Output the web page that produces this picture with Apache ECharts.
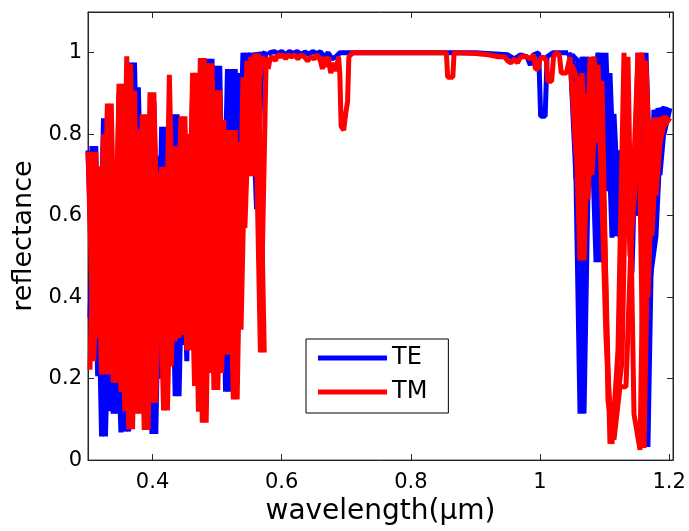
<!DOCTYPE html>
<html>
<head>
<meta charset="utf-8">
<script src="https://cdn.jsdelivr.net/npm/echarts@6/dist/echarts.min.js"></script>
<style>html,body{margin:0;padding:0;background:#fff}#c{width:689px;height:531px}</style>
</head>
<body>
<div id="c"></div>
<script>
// ---- data ----
var xTicks = [0.4, 0.6, 0.8, 1.0, 1.2];
var yTicks = [0, 0.2, 0.4, 0.6, 0.8, 1.0];

// TE: dense noisy band (short wavelengths)
var teDenseWl = [
0.300,0.303,0.306,0.309,0.312,0.315,0.318,0.321,0.324,0.327,0.330,0.333,0.336,0.339,0.342,0.345,0.348,0.351,0.354,0.357,
0.360,0.363,0.366,0.369,0.372,0.375,0.378,0.381,0.384,0.387,0.390,0.393,0.396,0.399,0.402,0.405,0.408,0.411,0.414,0.417,
0.420,0.423,0.426,0.429,0.432,0.435,0.438,0.441,0.444,0.447,0.450,0.453,0.456,0.459,0.462,0.465,0.468,0.471,0.474,0.477,
0.480,0.483,0.486,0.489,0.492,0.495,0.498,0.501,0.504,0.507,0.510,0.513,0.516,0.519,0.522,0.525,0.528,0.531,0.534,0.537,
0.540,0.543,0.546,0.549,0.552,0.555,0.558,0.561,0.564,0.567,0.570,0.573,0.576,0.579
];
var teDenseR = [
0.76,0.35,0.771,0.33,0.771,0.206,0.60,0.058,0.839,0.058,0.70,0.12,0.60,0.114,0.50,0.114,0.90,0.068,0.90,0.07,
0.95,0.07,0.976,0.20,0.976,0.30,0.915,0.34,0.75,0.30,0.80,0.25,0.85,0.064,0.88,0.064,0.747,0.20,0.818,0.30,
0.818,0.25,0.85,0.35,0.849,0.157,0.849,0.157,0.80,0.283,0.80,0.243,0.80,0.35,0.90,0.35,0.93,0.30,0.95,0.25,
0.95,0.30,0.985,0.40,0.985,0.35,0.968,0.30,0.968,0.316,0.835,0.168,0.96,0.168,0.96,0.55,0.96,0.50,0.95,0.60,
1.0,0.75,1.0,0.85,1.0,0.80,1.0,0.616,1.0,0.95,1.0,0.98,1.0,0.995
];
// TE: flat high-reflectance band
var teFlatWl = [
0.582,0.588,0.594,0.600,0.606,0.612,0.618,0.624,0.630,0.636,0.642,0.648,0.654,0.660,0.666,0.672,0.678,0.684,0.690,0.700,
0.760,0.850,0.900,0.950,0.960,0.970,0.980,0.985,0.990,0.998,1.001,1.008,1.011,1.020,1.030,1.040
];
var teFlatR = [
1.0,1.003,0.998,1.003,0.995,1.003,0.998,1.003,0.995,1.002,0.996,1.003,0.998,1.002,0.99,1.0,0.985,0.99,1.0,1.0,
1.0,1.0,1.0,0.995,0.985,0.995,0.99,0.97,0.995,1.0,0.844,0.844,0.99,1.0,1.0,1.0
];
// TE: dense band edge (long wavelengths)
var teRightWl = [
1.0434,1.0465,1.0496,1.0527,1.0558,1.0589,1.0620,1.0651,1.0682,1.0713,1.0744,1.0775,1.0806,1.0837,1.0868,1.0898,1.0929,1.0960,1.0991,1.1022,
1.1053,1.1084,1.1115,1.1146,1.1177,1.1208,1.1239,1.1270,1.1301,1.1332,1.1363,1.1394,1.1425,1.1456,1.1487,1.1518,1.1549,1.1580,1.1611,1.1642,
1.1672,1.1703,1.1734,1.1765,1.1796,1.1827,1.1858,1.1889,1.1920,1.1951,1.1982,1.2013
];
var teRightR = [
1.0,1.0,0.995,0.97,0.69,0.98,0.114,0.99,0.114,0.99,0.80,0.95,0.85,0.99,0.486,1.0,0.486,1.0,0.70,1.0,
0.66,0.95,0.546,0.85,0.55,0.76,0.546,0.76,0.60,0.76,0.55,0.76,0.46,0.70,0.60,1.0,0.60,1.0,0.45,1.0,
0.032,0.44,0.54,0.86,0.55,0.864,0.70,0.864,0.80,0.864,0.86,0.864
];

// TM
var tmDenseWl = teDenseWl.slice();
var tmDenseR = [
0.757,0.222,0.757,0.243,0.757,0.30,0.721,0.21,0.80,0.21,0.875,0.21,0.875,0.19,0.737,0.19,0.924,0.168,0.924,0.12,
0.991,0.076,0.972,0.076,0.907,0.114,0.81,0.114,0.849,0.074,0.849,0.074,0.903,0.141,0.903,0.141,0.706,0.287,0.72,0.122,
0.72,0.122,0.946,0.23,0.77,0.292,0.77,0.30,0.844,0.307,0.844,0.27,0.80,0.27,0.951,0.182,0.951,0.119,0.987,0.092,
0.987,0.092,0.974,0.214,0.974,0.172,0.908,0.172,0.908,0.214,0.835,0.259,0.81,0.259,0.81,0.149,0.81,0.149,0.78,0.32,
0.94,0.57,0.98,0.697,0.99,0.697,0.998,0.87,0.998,0.264,0.99,0.264,0.99,0.96
];
var tmFlatWl = [
0.582,0.586,0.590,0.594,0.598,0.602,0.606,0.610,0.615,0.620,0.625,0.630,0.635,0.640,0.645,0.650,0.655,0.660,0.663,0.666,
0.669,0.672,0.676,0.680,0.684,0.688,0.690,0.692,0.696,0.699,0.702,0.704,0.710,0.760,0.810,0.855,0.857,0.861,0.865,0.867,
0.900,0.920,0.935,0.945,0.950,0.955,0.960,0.965,0.970,0.980,0.985,0.990,0.993,0.997,1.000,1.005,1.010,1.012,1.018,1.021,
1.025,1.030,1.033,1.037,1.041
];
var tmFlatR = [
0.985,0.99,0.98,0.995,0.99,0.995,0.985,0.995,0.99,0.995,0.985,0.995,0.99,0.98,0.99,0.985,0.995,0.98,0.96,0.99,
0.965,0.99,0.95,0.975,0.955,0.99,0.95,0.82,0.81,0.85,0.88,0.99,1.0,1.0,1.0,1.0,0.94,0.94,0.94,1.0,
0.998,0.995,0.99,0.99,0.98,0.975,0.985,0.975,0.99,0.99,0.985,0.995,0.96,0.96,0.985,0.99,0.98,0.93,0.93,0.99,
1.0,0.995,0.95,0.95,0.95
];
var tmRightWl = [
1.0465,1.0496,1.0527,1.0558,1.0589,1.0620,1.0651,1.0682,1.0713,1.0744,1.0775,1.0806,1.0837,1.0868,1.0898,1.0929,1.0960,1.0991,1.1022,
1.1053,1.1084,1.1115,1.1146,1.1177,1.1208,1.1239,1.1270,1.1301,1.1332,1.1363,1.1394,1.1425,1.1456,1.1487,1.1518,1.1549,1.1580,1.1611,1.1642,
1.1672,1.1703,1.1734,1.1765,1.1796,1.1827,1.1858,1.1889,1.1920,1.1951,1.1982,1.2013
];
var tmRightR = [
0.99,0.97,0.93,0.75,0.93,0.49,0.95,0.49,0.90,0.64,0.99,0.70,0.99,0.78,0.97,0.80,0.93,0.62,0.30,
0.146,0.04,0.04,0.05,0.12,0.27,0.18,0.24,1.0,0.18,0.99,0.50,0.60,0.113,0.70,1.0,0.025,1.0,0.03,0.98,
0.40,0.83,0.55,0.84,0.65,0.84,0.78,0.84,0.82,0.845,0.84,0.84
];

var seriesNames = ['TE', 'TM'];
var seriesColors = ['#0000ff', '#ff0000'];

// ---- build series ----
function pairs(xs, ys) { return xs.map(function (x, i) { return [x, ys[i]]; }); }
// Dense, rapidly oscillating stretches are stroked as interleaved passes so that
// thick overlapping strokes of one path never cancel each other out.
function interleaved(xs, ys, k, j) {
  var out = [];
  for (var i = j; i < xs.length; i += k) out.push([xs[i], ys[i]]);
  return out;
}
var FONT = 'DejaVu Sans';
var AX = '#262626';

function lineSeries(name, color, data, z) {
  return {
    name: name, type: 'line', data: data, showSymbol: false, symbol: 'none',
    color: color, lineStyle: {width: 5, color: color, join: 'bevel'}, z: z,
    emphasis: {disabled: true}
  };
}
function buildSeries(name, color, dWl, dR, fWl, fR, rWl, rR, z) {
  var out = [];
  var mid = pairs(fWl, fR);
  mid.unshift([dWl[dWl.length - 1], dR[dR.length - 1]]);
  mid.push([rWl[0], rR[0]]);
  out.push(lineSeries(name, color, mid, z));
  for (var j = 0; j < 3; j++) {
    out.push(lineSeries(name, color, interleaved(dWl, dR, 3, j), z));
    out.push(lineSeries(name, color, interleaved(rWl, rR, 3, j), z));
  }
  return out;
}

var allSeries = []
  .concat(buildSeries(seriesNames[0], seriesColors[0], teDenseWl, teDenseR, teFlatWl, teFlatR, teRightWl, teRightR, 2))
  .concat(buildSeries(seriesNames[1], seriesColors[1], tmDenseWl, tmDenseR, tmFlatWl, tmFlatR, tmRightWl, tmRightR, 3));

var chart = echarts.init(document.getElementById('c'), null, {renderer: 'canvas'});
function fmt(v) { return String(Math.round(v * 10) / 10); }

chart.setOption({
  animation: false,
  backgroundColor: '#fff',
  grid: {left: 88, right: 16, top: 12, bottom: 68, show: true, borderColor: AX, borderWidth: 1, backgroundColor: 'transparent'},
  legend: {
    data: seriesNames, orient: 'vertical', left: 306, top: 339,
    icon: 'rect', itemWidth: 69, itemHeight: 5, itemGap: 10,
    padding: [7, 21, 9, 12],
    backgroundColor: '#fff', borderColor: '#000', borderWidth: 1, borderRadius: 0,
    textStyle: {fontFamily: FONT, fontSize: 24, color: '#000', lineHeight: 24}
  },
  xAxis: [{
    type: 'value', min: 0.3, max: 1.206,
    name: 'wavelength(\u03bcm)', nameLocation: 'middle', nameGap: 37,
    nameTextStyle: {fontFamily: FONT, fontSize: 28, color: '#000'},
    axisLine: {show: true, onZero: false, lineStyle: {color: AX, width: 1}},
    axisTick: {show: true, inside: true, length: 6, customValues: xTicks, lineStyle: {color: AX}},
    axisLabel: {show: true, margin: 12, customValues: xTicks, formatter: fmt, fontFamily: FONT, fontSize: 21, color: '#000'},
    splitLine: {show: false}
  }, {
    type: 'value', min: 0.3, max: 1.206, position: 'top',
    axisLine: {show: true, onZero: false, lineStyle: {color: AX, width: 1}},
    axisTick: {show: true, inside: true, length: 6, customValues: xTicks, lineStyle: {color: AX}},
    axisLabel: {show: false}, splitLine: {show: false}
  }],
  yAxis: [{
    type: 'value', min: 0, max: 1.1,
    name: 'reflectance', nameLocation: 'middle', nameGap: 49, nameRotate: 90,
    nameTextStyle: {fontFamily: FONT, fontSize: 27, color: '#000'},
    axisLine: {show: true, onZero: false, lineStyle: {color: AX, width: 1}},
    axisTick: {show: true, inside: true, length: 6, customValues: yTicks, lineStyle: {color: AX}},
    axisLabel: {show: true, margin: 6, customValues: yTicks, formatter: fmt, fontFamily: FONT, fontSize: 21, color: '#000'},
    splitLine: {show: false}
  }, {
    type: 'value', min: 0, max: 1.1, position: 'right',
    axisLine: {show: true, onZero: false, lineStyle: {color: AX, width: 1}},
    axisTick: {show: true, inside: true, length: 6, customValues: yTicks, lineStyle: {color: AX}},
    axisLabel: {show: false}, splitLine: {show: false}
  }],
  series: allSeries
});
</script>
</body>
</html>
